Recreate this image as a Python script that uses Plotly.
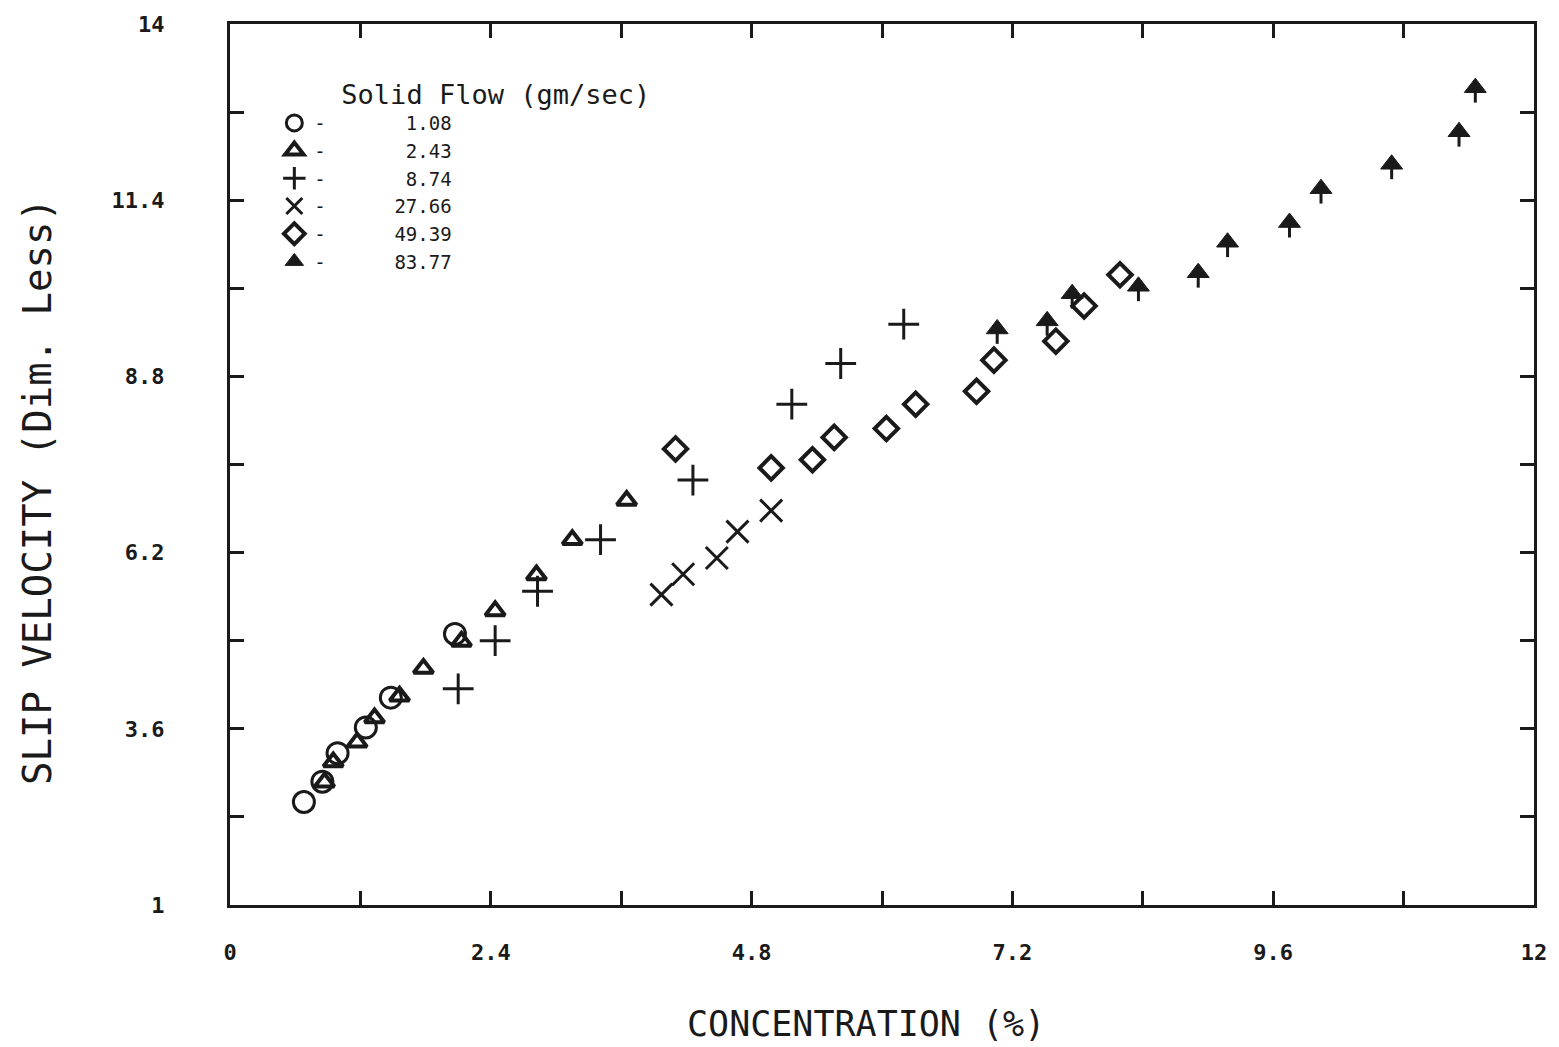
import plotly.graph_objects as go

# Slip velocity vs. solids concentration, one series per solid flow rate (gm/sec)
flow_labels = ["1.08", "2.43", "8.74", "27.66", "49.39", "83.77"]

conc_108 = [0.68, 0.85, 0.99, 1.25, 1.48, 2.07]
slip_108 = [2.52, 2.82, 3.24, 3.62, 4.06, 5.00]

conc_243 = [0.87, 0.95, 1.17, 1.33, 1.56, 1.78, 2.13, 2.44, 2.82, 3.15, 3.65]
slip_243 = [2.81, 3.11, 3.40, 3.76, 4.08, 4.49, 4.89, 5.34, 5.87, 6.39, 6.97]

conc_874 = [2.10, 2.44, 2.83, 3.41, 4.26, 5.17, 5.62, 6.20]
slip_874 = [4.19, 4.90, 5.63, 6.39, 7.27, 8.39, 8.99, 9.57]

conc_2766 = [3.97, 4.17, 4.48, 4.67, 4.98]
slip_2766 = [5.58, 5.88, 6.12, 6.51, 6.82]

conc_4939 = [4.10, 4.98, 5.36, 5.56, 6.04, 6.31, 6.87, 7.03, 7.60, 7.86, 8.19]
slip_4939 = [7.73, 7.45, 7.57, 7.90, 8.03, 8.39, 8.58, 9.04, 9.32, 9.84, 10.30]

conc_8377 = [7.06, 7.52, 7.75, 8.36, 8.91, 9.18, 9.75, 10.04, 10.69, 11.31, 11.46]
slip_8377 = [9.50, 9.62, 10.02, 10.13, 10.33, 10.78, 11.07, 11.57, 11.93, 12.41, 13.06]

x_ticks = [0, 1.2, 2.4, 3.6, 4.8, 6.0, 7.2, 8.4, 9.6, 10.8, 12]
x_ticktext = ["0", "", "2.4", "", "4.8", "", "7.2", "", "9.6", "", "12"]
y_ticks = [1, 2.3, 3.6, 4.9, 6.2, 7.5, 8.8, 10.1, 11.4, 12.7, 14]
y_ticktext = ["1", "", "3.6", "", "6.2", "", "8.8", "", "11.4", "", "14"]

FONT = "DejaVu Sans Mono"
INK = "#1a1a1a"
NB = "\u00a0"


def legend_name(v):
    return "-" + NB * (11 - len(v)) + v


fig = go.Figure()

series = [
    (conc_108, slip_108, "circle-open", 21, 3),
    (conc_243, slip_243, "triangle-up-open", 17, 4),
    (conc_874, slip_874, "cross-thin-open", 22, 3),
    (conc_2766, slip_2766, "x-thin-open", 22, 3),
    (conc_4939, slip_4939, "diamond-open", 18, 4),
]
for (xs, ys, sym, size, lw), lab in zip(series, flow_labels):
    fig.add_trace(go.Scatter(
        x=xs, y=ys, mode="markers", name=legend_name(lab),
        marker=dict(symbol=sym, size=size, color=INK,
                    line=dict(color=INK, width=lw)),
    ))

# arrow markers: filled head with a short stem hanging below
fig.add_trace(go.Scatter(
    x=conc_8377, y=slip_8377, mode="markers", name=legend_name(flow_labels[5]),
    marker=dict(symbol="triangle-up", size=19, color=INK,
                line=dict(color=INK, width=1)),
    error_y=dict(type="constant", symmetric=False, value=0, valueminus=0.22,
                 color=INK, thickness=3, width=0),
))

axis_common = dict(
    showline=True, linecolor=INK, linewidth=3, mirror="ticks",
    ticks="inside", ticklen=14, tickwidth=3, tickcolor=INK,
    showgrid=False, zeroline=False,
    tickfont=dict(family=FONT, size=22, color=INK, weight="bold"),
)

fig.update_layout(
    width=1559, height=1047,
    margin=dict(l=230, r=24, t=20, b=142),
    paper_bgcolor="white", plot_bgcolor="white",
    font=dict(family=FONT, color=INK),
    xaxis=dict(
        range=[0, 12], tickmode="array", tickvals=x_ticks, ticktext=x_ticktext,
        ticklabelstandoff=26, **axis_common,
    ),
    yaxis=dict(
        range=[1, 14], tickmode="array", tickvals=y_ticks, ticktext=y_ticktext,
        ticklabelstandoff=58, **axis_common,
    ),
    annotations=[
        dict(text="CONCENTRATION (%)", xref="paper", yref="paper",
             x=(866 - 230) / 1305, y=-(1025 - 905) / 885,
             xanchor="center", yanchor="middle", showarrow=False,
             font=dict(family=FONT, size=35, color=INK)),
        dict(text="SLIP VELOCITY (Dim. Less)", xref="paper", yref="paper",
             x=-(230 - 38) / 1305, y=1 - (490 - 20) / 885, textangle=-90,
             xanchor="center", yanchor="middle", showarrow=False,
             font=dict(family=FONT, size=39, color=INK)),
    ],
    legend=dict(
        x=0.034, y=0.949, xanchor="left", yanchor="top",
        bgcolor="rgba(0,0,0,0)", borderwidth=0,
        title=dict(text=NB * 4 + "Solid Flow (gm/sec)", side="top",
                   font=dict(family=FONT, size=27, color=INK)),
        font=dict(family=FONT, size=19, color=INK),
        itemwidth=30, tracegroupgap=0,
    ),
    showlegend=True,
)

fig.write_html("out.html")
